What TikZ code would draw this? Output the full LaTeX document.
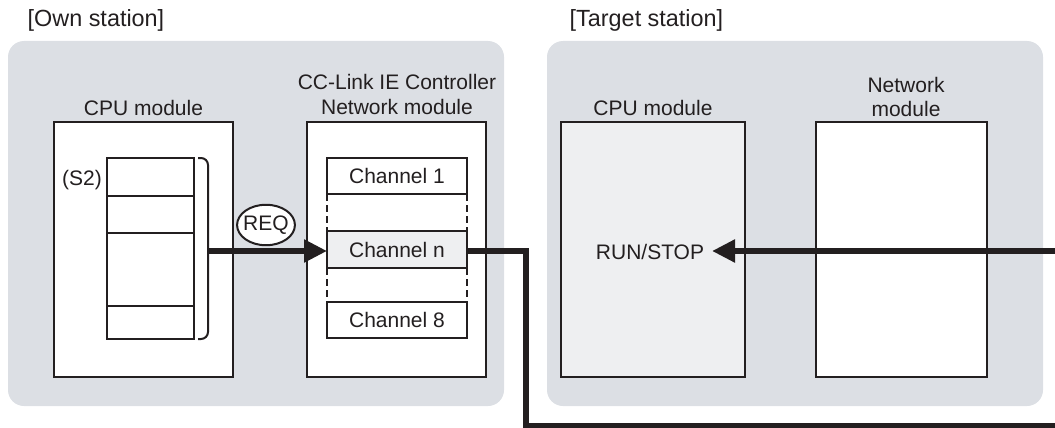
\documentclass[tikz,border=0pt]{standalone}
\usepackage{fontspec}
\setmainfont{Liberation Sans}
\usetikzlibrary{arrows.meta,shapes.geometric,calc}
\definecolor{stbg}{HTML}{DCDFE4}
\definecolor{lgfill}{HTML}{EEEFF1}
\definecolor{ink}{HTML}{231F20}
\newcommand{\mylbl}{\fontsize{21}{24.5}\selectfont}
\newcommand{\myhdr}{\fontsize{23.4}{28}\selectfont}
\tikzset{
  station/.style={fill=stbg, rounded corners=16pt, anchor=north west, inner sep=0pt, outer sep=0pt},
  modbox/.style={draw=ink, line width=2.3pt, fill=white, anchor=north west, inner sep=0pt, outer sep=0pt},
  chbox/.style={draw=ink, line width=2.2pt, fill=white, anchor=north west, inner sep=0pt, outer sep=0pt, minimum width=140pt, font=\mylbl, text=ink},
  cell/.style={draw=ink, line width=2pt, fill=white, anchor=north west, inner sep=0pt, outer sep=0pt, minimum width=87pt},
  lbl/.style={font=\mylbl, text=ink, inner sep=0pt, outer sep=0pt},
  hdr/.style={font=\myhdr, text=ink, inner sep=0pt, anchor=base west},
  flow/.style={draw=ink, line width=5.5pt},
  flowarrow/.style={flow, -{Triangle[length=23pt,width=22pt]}},
  dashside/.style={draw=ink, line width=2pt, dash pattern=on 7pt off 4pt},
  bracketline/.style={draw=ink, line width=2pt, rounded corners=7pt},
}
\begin{document}
\begin{tikzpicture}[x=1pt,y=-1pt]
\useasboundingbox (0,0) rectangle (1055,428);
% stations
\node[station, minimum width=496pt, minimum height=365pt] (own) at (8,41) {};
\node[station, minimum width=496pt, minimum height=365pt] (tgt) at (547,41) {};
\node[hdr] (ownhdr) at (27.5,27) {[Own station]};
\node[hdr] (tgthdr) at (569.5,27) {[Target station]};
\coordinate (rowy) at (0,251);
\coordinate (bend) at (526,426);
\coordinate (outR) at (1055,426);
% modules
\node[modbox, minimum width=179pt, minimum height=255pt] (cpu1) at (54,122) {};
\node[lbl, anchor=base] (cpu1lbl) at (143.5,115.5) {CPU module};
\node[modbox, minimum width=179pt, minimum height=255pt] (net1) at (307,122) {};
\node[lbl, anchor=south, align=center] (net1lbl) at (397,114.5) {CC-Link IE Controller\\Network module};
\node[modbox, fill=lgfill, minimum width=184pt, minimum height=255pt] (cpu2) at (561,122) {};
\node[lbl, anchor=base] (cpu2lbl) at (653,115.5) {CPU module};
\node[modbox, minimum width=171pt, minimum height=255pt] (net2) at (816,122) {};
\node[lbl, anchor=south, align=center] (net2lbl) at (906,117) {Network\\module};
% S2 device stack
\node[cell, minimum height=38pt] (s2a) at (107,158) {};
\node[cell, minimum height=37pt] (s2b) at (107,196) {};
\node[cell, minimum height=73pt] (s2c) at (107,233) {};
\node[cell, minimum height=33pt] (s2d) at (107,306) {};
\node[lbl, anchor=base] (s2lbl) at (82,185.5) {(S2)};
\draw[bracketline] (198,158) -- (208,158) -- (208,339) -- (198,339);
\coordinate (brk) at (208,251);
% channels
\node[chbox, minimum height=36pt] (ch1) at (327,158) {Channel 1};
\node[chbox, fill=lgfill, minimum height=37pt] (chn) at (327,231) {Channel n};
\node[chbox, minimum height=36pt] (ch8) at (327,302) {Channel 8};
\draw[dashside] (ch1.south west) -- (chn.north west);
\draw[dashside] (ch1.south east) -- (chn.north east);
\draw[dashside] (chn.south west) -- (ch8.north west);
\draw[dashside] (chn.south east) -- (ch8.north east);
% REQ
\node[ellipse, draw=ink, line width=2pt, fill=white, inner xsep=-2.3pt, inner ysep=5pt, font=\mylbl, text=ink] (req) at (266,225) {REQ};
% connectors
\draw[flowarrow] (brk) -- (chn.west |- rowy);
\draw[flow] (chn.east |- rowy) -| (bend) -- (outR);
\node[lbl, anchor=base, inner xsep=8pt] (runstop) at (650,259.5) {RUN/STOP};
\coordinate (inR) at (1055,251);
\draw[flowarrow] (inR) -- (runstop.east |- inR);
\end{tikzpicture}
\end{document}
